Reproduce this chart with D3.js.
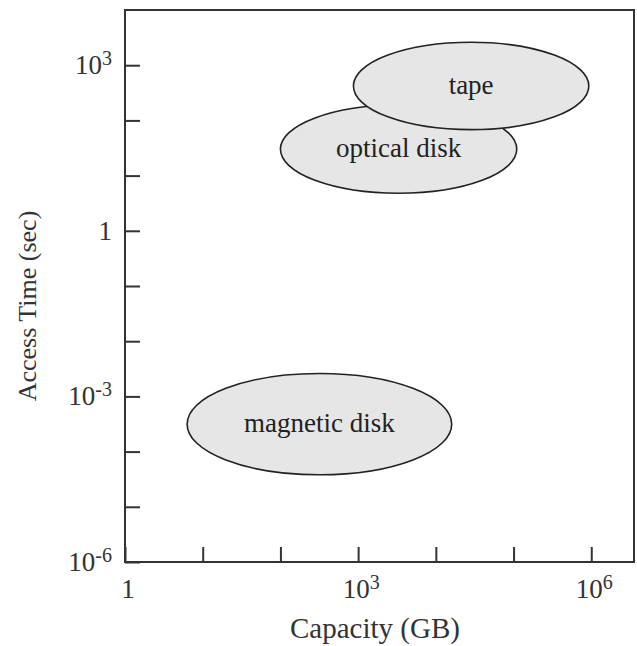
<!DOCTYPE html>
<html>
<head>
<meta charset="utf-8">
<script src="https://cdn.jsdelivr.net/npm/d3@7"></script>
<style>
  body { margin: 0; background: #fff; }
  svg text { font-family: "Liberation Serif", "DejaVu Serif", serif; fill: #333; }
</style>
</head>
<body>
<svg id="chart" width="637" height="646"></svg>
<script>
// storage devices, drawn back to front (tape sits over optical disk)
const devices = ["magnetic disk", "optical disk", "tape"];
const capacityMin = [6.3, 100, 870];       // GB
const capacityMax = [1.6e4, 1.1e5, 9.3e5];
const accessMin = [3.8e-5, 4.8, 68];       // sec
const accessMax = [2.6e-3, 190, 2600];

const xTickExps = [0, 1, 2, 3, 4, 5, 6];
const xLabelExps = [0, 3, 6];
const yTickExps = [-6, -5, -4, -3, -2, -1, 0, 1, 2, 3];
const yLabelExps = [-6, -3, 0, 3];

const svg = d3.select("#chart");
const plotLeft = 125, plotRight = 634, plotTop = 10, plotBottom = 562;

const x = d3.scaleLog().domain([1, Math.pow(10, 6.55)]).range([plotLeft, plotRight]);
const y = d3.scaleLog().domain([1e-6, 1e4]).range([plotBottom, plotTop]);

// ellipses
const rows = devices.map((name, i) => {
  const x0 = x(capacityMin[i]), x1 = x(capacityMax[i]);
  const y0 = y(accessMax[i]), y1 = y(accessMin[i]);
  return { name, cx: (x0 + x1) / 2, cy: (y0 + y1) / 2, rx: (x1 - x0) / 2, ry: (y1 - y0) / 2 };
});

const g = svg.append("g");
rows.forEach(d => {
  g.append("ellipse")
    .attr("cx", d.cx).attr("cy", d.cy)
    .attr("rx", d.rx).attr("ry", d.ry)
    .attr("fill", "#e6e6e6")
    .attr("stroke", "#222")
    .attr("stroke-width", 1.6);
  g.append("text")
    .attr("x", d.cx).attr("y", d.cy + 8)
    .attr("text-anchor", "middle")
    .attr("font-size", 27)
    .style("fill", "#222")
    .text(d.name);
});

// frame
svg.append("rect")
  .attr("x", plotLeft).attr("y", plotTop)
  .attr("width", plotRight - plotLeft).attr("height", plotBottom - plotTop)
  .attr("fill", "none")
  .attr("stroke", "#333")
  .attr("stroke-width", 2);

// axes with inward ticks
const xAxis = d3.axisBottom(x)
  .tickValues(xTickExps.map(e => Math.pow(10, e)))
  .tickSize(-15).tickFormat("");
const yAxis = d3.axisLeft(y)
  .tickValues(yTickExps.map(e => Math.pow(10, e)))
  .tickSize(-15).tickFormat("");

svg.append("g").attr("transform", `translate(0,${plotBottom})`).call(xAxis)
  .call(a => a.select(".domain").remove())
  .selectAll("line").attr("stroke", "#333").attr("stroke-width", 2);
svg.append("g").attr("transform", `translate(${plotLeft},0)`).call(yAxis)
  .call(a => a.select(".domain").remove())
  .selectAll("line").attr("stroke", "#333").attr("stroke-width", 2);

function powLabel(sel, e) {
  if (e === 0) { sel.text("1"); return; }
  sel.append("tspan").text("10");
  sel.append("tspan").attr("dy", -9).attr("font-size", 20).text(e);
}

xLabelExps.forEach(e => {
  const t = svg.append("text")
    .attr("x", x(Math.pow(10, e)) + 3)
    .attr("y", 598)
    .attr("text-anchor", "middle")
    .attr("font-size", 27);
  powLabel(t, e);
});

yLabelExps.forEach(e => {
  const t = svg.append("text")
    .attr("x", 112)
    .attr("y", y(Math.pow(10, e)) + 9)
    .attr("text-anchor", "end")
    .attr("font-size", 27);
  powLabel(t, e);
});

svg.append("text")
  .attr("x", 375).attr("y", 638)
  .attr("text-anchor", "middle").attr("font-size", 29)
  .text("Capacity (GB)");

svg.append("text")
  .attr("transform", `translate(36,${(plotTop + plotBottom) / 2 + 20}) rotate(-90)`)
  .attr("text-anchor", "middle").attr("font-size", 26)
  .text("Access Time (sec)");
</script>
</body>
</html>
